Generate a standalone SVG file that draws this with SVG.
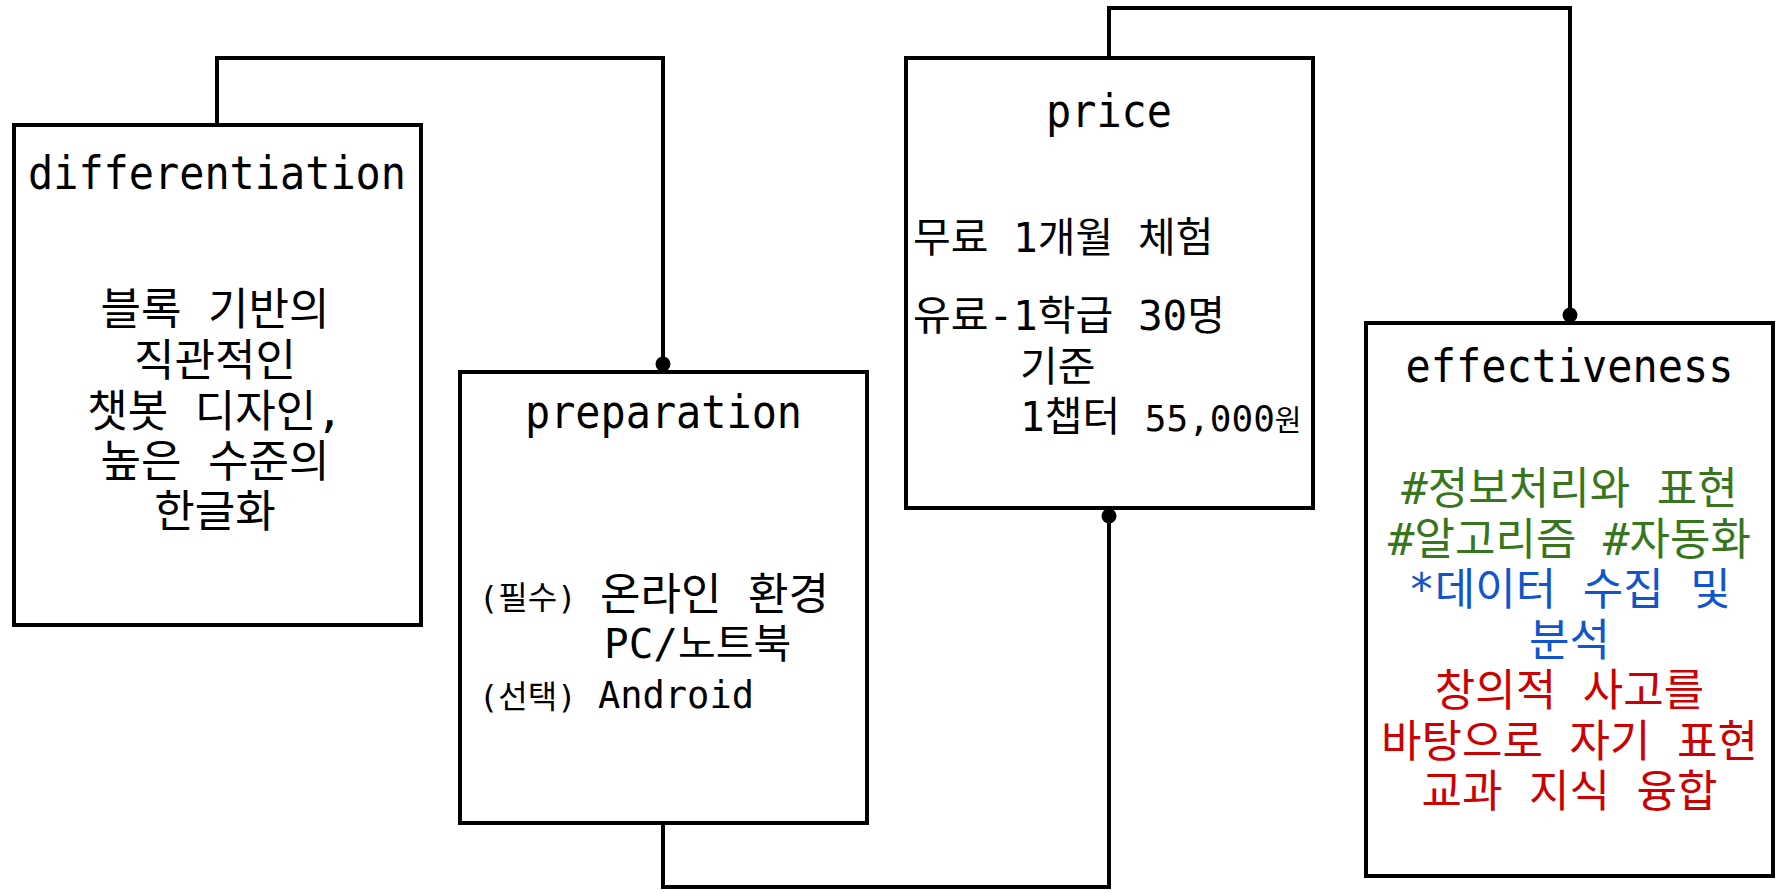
<svg xmlns="http://www.w3.org/2000/svg" width="1777" height="893" viewBox="0 0 1777 893">
<style>
.box{fill:#fff;stroke:#000;stroke-width:4}
.conn{fill:none;stroke:#000;stroke-width:4}
.dot{fill:#000}
.t{font-family:"DejaVu Sans Mono","Noto Sans CJK KR",monospace;fill:#000}
.title{font-size:46px;text-anchor:middle}
.body{font-size:41px}
.big{font-size:44px}
.mid{text-anchor:middle}
.small{font-size:32px}
.g{fill:#38761d}
.b{fill:#1155cc}
.r{fill:#cc0000}
</style>
<rect width="1777" height="893" fill="#fff"/>
<g id="connectors">
<path class="conn" d="M217,125 V58 H663 V372"/>
<circle class="dot" cx="663" cy="364" r="7.5"/>
<path class="conn" d="M663,823 V887 H1109 V508"/>
<circle class="dot" cx="1109" cy="516" r="7.5"/>
<path class="conn" d="M1109,58 V8 H1570 V323"/>
<circle class="dot" cx="1570" cy="315" r="7.5"/>
</g>
<g id="differentiation">
<rect class="box" x="14" y="125" width="407" height="500"/>
<text class="t title" x="217" y="189" textLength="378" lengthAdjust="spacingAndGlyphs">differentiation</text>
<text class="t big mid" x="215" y="325">블록 기반의</text>
<text class="t big mid" x="215" y="375.5">직관적인</text>
<text class="t big mid" x="215" y="427">챗봇 디자인,</text>
<text class="t big mid" x="215" y="476.5">높은 수준의</text>
<text class="t big mid" x="215" y="527">한글화</text>
</g>
<g id="preparation">
<rect class="box" x="460" y="372" width="407" height="451"/>
<text class="t title" x="663.5" y="428" textLength="277" lengthAdjust="spacingAndGlyphs">preparation</text>
<text class="t small" x="479" y="609">(필수)</text>
<text class="t big" x="600" y="610">온라인 환경</text>
<text class="t body" x="604" y="658">PC/노트북</text>
<text class="t small" x="479" y="708">(선택)</text>
<text class="t" x="598" y="708" font-size="37">Android</text>
</g>
<g id="price">
<rect class="box" x="906" y="58" width="407" height="450"/>
<text class="t title" x="1109" y="127" textLength="126" lengthAdjust="spacingAndGlyphs">price</text>
<text class="t body" x="913" y="252">무료 1개월 체험</text>
<text class="t body" x="913" y="330">유료-1학급 30명</text>
<text class="t body" x="1020" y="381">기준</text>
<text class="t body" x="1020" y="431">1챕터 <tspan font-size="36">55,000</tspan><tspan font-size="29">원</tspan></text>
</g>
<g id="effectiveness">
<rect class="box" x="1366" y="323" width="407" height="553"/>
<text class="t title" x="1569.5" y="382" textLength="328" lengthAdjust="spacingAndGlyphs">effectiveness</text>
<text class="t big mid g" x="1569.5" y="504">#정보처리와 표현</text>
<text class="t big mid g" x="1569.5" y="554.5">#알고리즘 #자동화</text>
<text class="t big mid b" x="1569.5" y="605">*데이터 수집 및</text>
<text class="t big mid b" x="1569.5" y="655.5">분석</text>
<text class="t big mid r" x="1569.5" y="706">창의적 사고를</text>
<text class="t big mid r" x="1569.5" y="756.5">바탕으로 자기 표현</text>
<text class="t big mid r" x="1569.5" y="807">교과 지식 융합</text>
</g>
</svg>
